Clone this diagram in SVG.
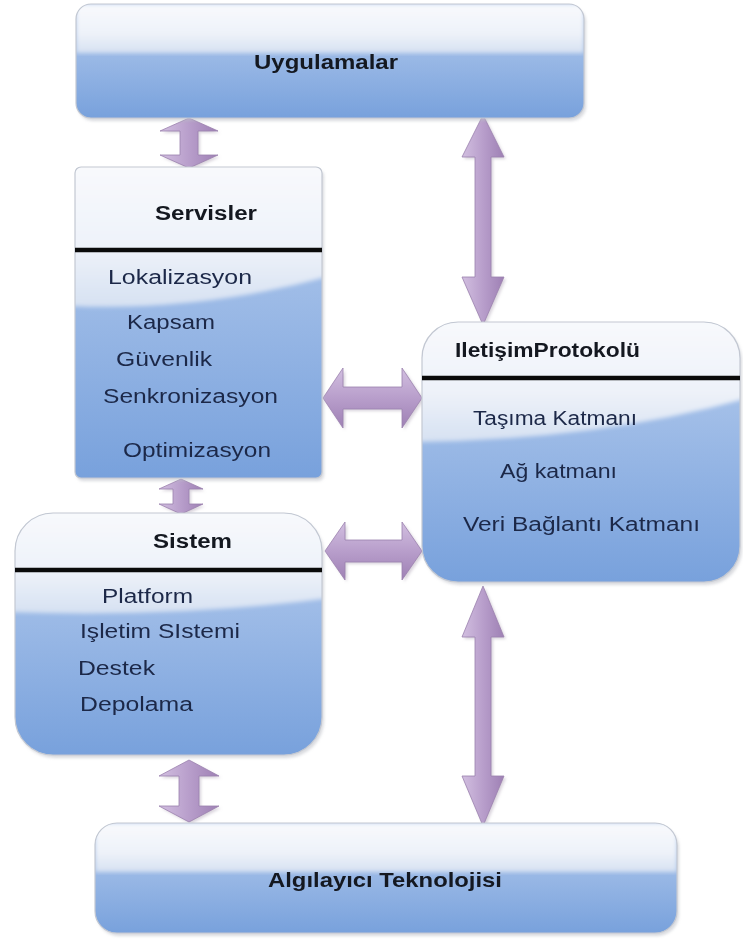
<svg xmlns="http://www.w3.org/2000/svg" width="743" height="943" viewBox="0 0 743 943">
  <defs>
    <linearGradient id="boxBlue" x1="0" y1="0" x2="0" y2="1">
      <stop offset="0" stop-color="#b7cdee"/>
      <stop offset="1" stop-color="#78a1dc"/>
    </linearGradient>
    <linearGradient id="gloss" x1="0" y1="0" x2="0" y2="1">
      <stop offset="0" stop-color="#f9fafd"/>
      <stop offset="0.6" stop-color="#eef2f9"/>
      <stop offset="1" stop-color="#d6e1f2"/>
    </linearGradient>
    <linearGradient id="arrowV" x1="0" y1="0" x2="1" y2="0">
      <stop offset="0" stop-color="#d2bfe0"/>
      <stop offset="0.5" stop-color="#b89ecb"/>
      <stop offset="1" stop-color="#9e80b4"/>
    </linearGradient>
    <linearGradient id="arrowH" x1="0" y1="0" x2="0" y2="1">
      <stop offset="0" stop-color="#d2bfe0"/>
      <stop offset="0.5" stop-color="#b89ecb"/>
      <stop offset="1" stop-color="#9e80b4"/>
    </linearGradient>
    <filter id="soft" x="-10%" y="-10%" width="120%" height="120%">
      <feGaussianBlur stdDeviation="1.5"/>
    </filter>
    <filter id="edge" x="-5%" y="-5%" width="110%" height="110%">
      <feGaussianBlur stdDeviation="2"/>
    </filter>
    <clipPath id="clipUyg"><rect x="76" y="4" width="508" height="114" rx="15"/></clipPath>
    <clipPath id="clipSrv"><rect x="75" y="167" width="247" height="311" rx="6"/></clipPath>
    <clipPath id="clipIlt"><rect x="422" y="322" width="318" height="260" rx="36"/></clipPath>
    <clipPath id="clipSis"><rect x="15" y="513" width="307" height="242" rx="38"/></clipPath>
    <clipPath id="clipAlg"><rect x="95" y="823" width="582" height="110" rx="22"/></clipPath>
  </defs>
  <style>
    .shadow { fill: #b9bcc4; opacity: 0.55; }
    .frame { fill: none; stroke: #c3c8d2; stroke-width: 1.2; }
    .base { fill: url(#boxBlue); }
    .gl { fill: url(#gloss); }
    .rule { stroke: #0a0a0a; stroke-width: 4.5; }
    .title { font-family: "Liberation Sans", Arial, sans-serif; font-weight: bold; font-size: 20px; fill: #141820; }
    .item { font-family: "Liberation Sans", Arial, sans-serif; font-size: 20px; fill: #1c2848; }
    .arrV { fill: url(#arrowV); stroke: #9a80ad; stroke-width: 0.8; }
    .arrH { fill: url(#arrowH); stroke: #9a80ad; stroke-width: 0.8; }
    .arrS { fill: #a89cb0; opacity: 0.45; }
  </style>

  <!-- connectors -->
  <g id="connectors">
    <g transform="translate(2,2)" filter="url(#soft)">
      <polygon class="arrS" points="189,118 218,131 198,131 198,155 218,155 189,168 160,155 180,155 180,131 160,131"/>
      <polygon class="arrS" points="181,479 203,489 189,489 189,504 203,504 181,514 159,504 173,504 173,489 159,489"/>
      <polygon class="arrS" points="189,760 219,776 199,776 199,806 219,806 189,822 159,806 179,806 179,776 159,776"/>
      <polygon class="arrS" points="483,115 504,157 491,157 491,277 504,277 483,325 462,277 475,277 475,157 462,157"/>
      <polygon class="arrS" points="483,586 504,637 491,637 491,776 504,776 483,826 462,776 475,776 475,637 462,637"/>
      <polygon class="arrS" points="323,398 343,368 343,387 402,387 402,368 422,398 402,428 402,409 343,409 343,428"/>
      <polygon class="arrS" points="325,551 345,522 345,540 402,540 402,522 422,551 402,580 402,562 345,562 345,580"/>
    </g>
    <polygon class="arrV" points="189,118 218,131 198,131 198,155 218,155 189,168 160,155 180,155 180,131 160,131"/>
    <polygon class="arrV" points="181,479 203,489 189,489 189,504 203,504 181,514 159,504 173,504 173,489 159,489"/>
    <polygon class="arrV" points="189,760 219,776 199,776 199,806 219,806 189,822 159,806 179,806 179,776 159,776"/>
    <polygon class="arrV" points="483,115 504,157 491,157 491,277 504,277 483,325 462,277 475,277 475,157 462,157"/>
    <polygon class="arrV" points="483,586 504,637 491,637 491,776 504,776 483,826 462,776 475,776 475,637 462,637"/>
    <polygon class="arrH" points="323,398 343,368 343,387 402,387 402,368 422,398 402,428 402,409 343,409 343,428"/>
    <polygon class="arrH" points="325,551 345,522 345,540 402,540 402,522 422,551 402,580 402,562 345,562 345,580"/>
  </g>

  <!-- Uygulamalar -->
  <g id="uygulamalar">
    <rect class="shadow" x="78" y="7" width="508" height="114" rx="15" filter="url(#soft)"/>
    <rect class="base" x="76" y="4" width="508" height="114" rx="15"/>
    <rect class="gl" x="76" y="4" width="508" height="49" clip-path="url(#clipUyg)" filter="url(#edge)"/>
    <rect class="frame" x="76" y="4" width="508" height="114" rx="15"/>
    <text class="title" x="326" y="69" text-anchor="middle" textLength="144" lengthAdjust="spacingAndGlyphs">Uygulamalar</text>
  </g>

  <!-- Servisler -->
  <g id="servisler">
    <rect class="shadow" x="77" y="170" width="247" height="311" rx="6" filter="url(#soft)"/>
    <rect class="base" x="75" y="167" width="247" height="311" rx="6"/>
    <g clip-path="url(#clipSrv)">
      <path class="gl" d="M70,160 H330 V276 Q200,312 70,306 Z" filter="url(#edge)"/>
    </g>
    <rect class="frame" x="75" y="167" width="247" height="311" rx="6"/>
    <line class="rule" x1="75" y1="250" x2="322" y2="250"/>
    <text class="title" x="155" y="220" textLength="102" lengthAdjust="spacingAndGlyphs">Servisler</text>
    <text class="item" x="108" y="284" textLength="144" lengthAdjust="spacingAndGlyphs">Lokalizasyon</text>
    <text class="item" x="127" y="329" textLength="88" lengthAdjust="spacingAndGlyphs">Kapsam</text>
    <text class="item" x="116" y="366" textLength="96" lengthAdjust="spacingAndGlyphs">Güvenlik</text>
    <text class="item" x="103" y="403" textLength="175" lengthAdjust="spacingAndGlyphs">Senkronizasyon</text>
    <text class="item" x="123" y="457" textLength="148" lengthAdjust="spacingAndGlyphs">Optimizasyon</text>
  </g>

  <!-- IletişimProtokolü -->
  <g id="iletisim">
    <rect class="shadow" x="424" y="325" width="318" height="260" rx="36" filter="url(#soft)"/>
    <rect class="base" x="422" y="322" width="318" height="260" rx="36"/>
    <g clip-path="url(#clipIlt)">
      <path class="gl" d="M415,315 H748 V398 Q600,440 415,442 Z" filter="url(#edge)"/>
    </g>
    <rect class="frame" x="422" y="322" width="318" height="260" rx="36"/>
    <line class="rule" x1="422" y1="378" x2="740" y2="378"/>
    <text class="title" x="455" y="357" textLength="185" lengthAdjust="spacingAndGlyphs">IletişimProtokolü</text>
    <text class="item" x="473" y="425" textLength="164" lengthAdjust="spacingAndGlyphs">Taşıma Katmanı</text>
    <text class="item" x="500" y="478" textLength="117" lengthAdjust="spacingAndGlyphs">Ağ katmanı</text>
    <text class="item" x="463" y="531" textLength="237" lengthAdjust="spacingAndGlyphs">Veri Bağlantı Katmanı</text>
  </g>

  <!-- Sistem -->
  <g id="sistem">
    <rect class="shadow" x="17" y="516" width="307" height="242" rx="38" filter="url(#soft)"/>
    <rect class="base" x="15" y="513" width="307" height="242" rx="38"/>
    <g clip-path="url(#clipSis)">
      <path class="gl" d="M8,506 H330 V598 Q180,618 8,612 Z" filter="url(#edge)"/>
    </g>
    <rect class="frame" x="15" y="513" width="307" height="242" rx="38"/>
    <line class="rule" x1="15" y1="570" x2="322" y2="570"/>
    <text class="title" x="153" y="548" textLength="79" lengthAdjust="spacingAndGlyphs">Sistem</text>
    <text class="item" x="102" y="603" textLength="91" lengthAdjust="spacingAndGlyphs">Platform</text>
    <text class="item" x="80" y="638" textLength="160" lengthAdjust="spacingAndGlyphs">Işletim SIstemi</text>
    <text class="item" x="78" y="675" textLength="77" lengthAdjust="spacingAndGlyphs">Destek</text>
    <text class="item" x="80" y="711" textLength="113" lengthAdjust="spacingAndGlyphs">Depolama</text>
  </g>

  <!-- Algılayıcı Teknolojisi -->
  <g id="algilayici">
    <rect class="shadow" x="97" y="826" width="582" height="110" rx="22" filter="url(#soft)"/>
    <rect class="base" x="95" y="823" width="582" height="110" rx="22"/>
    <rect class="gl" x="95" y="823" width="582" height="49" clip-path="url(#clipAlg)" filter="url(#edge)"/>
    <rect class="frame" x="95" y="823" width="582" height="110" rx="22"/>
    <text class="title" x="385" y="887" text-anchor="middle" textLength="234" lengthAdjust="spacingAndGlyphs">Algılayıcı Teknolojisi</text>
  </g>
</svg>
